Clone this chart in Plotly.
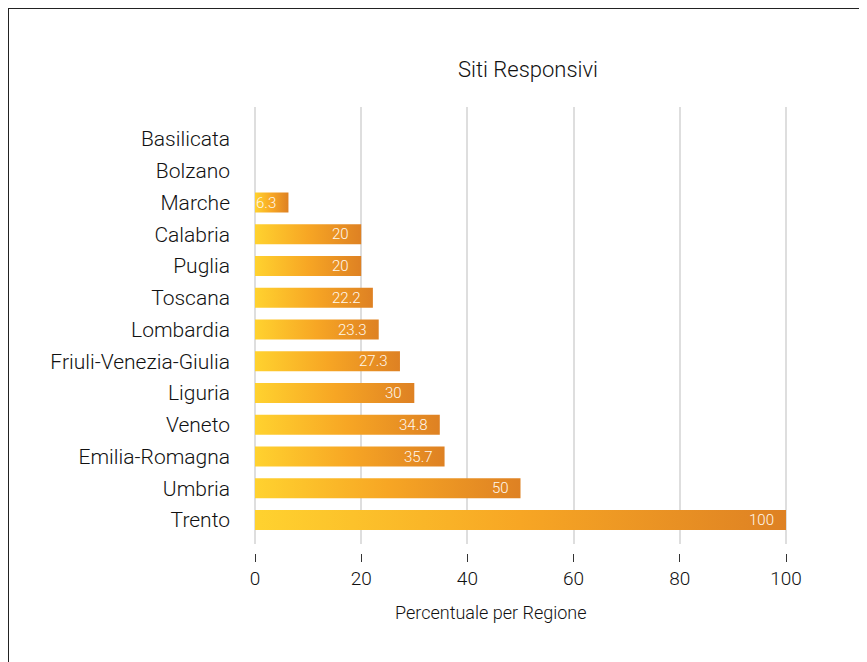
import plotly.graph_objects as go

# ---- data (top to bottom as shown) ----
regions = ["Basilicata", "Bolzano", "Marche", "Calabria", "Puglia", "Toscana",
           "Lombardia", "Friuli-Venezia-Giulia", "Liguria", "Veneto",
           "Emilia-Romagna", "Umbria", "Trento"]
values = [0, 0, 6.3, 20, 20, 22.2, 23.3, 27.3, 30, 34.8, 35.7, 50, 100]
x_ticks = [0, 20, 40, 60, 80, 100]
title_text = "Siti Responsivi"
x_title = "Percentuale per Regione"

# ---- style / layout constants (figure pixels; page adds an 8px body margin) ----
W, H = 867, 662
OFF = 8
PAD = 3  # extra px on each side so edge gridlines are drawn
X0_PX, X1_PX = 255 - OFF, 786 - OFF
PL, PR, PT, PB = X0_PX - PAD, X1_PX + PAD, 107 - OFF, 553 - OFF
GRID_BOTTOM = 544 - OFF
TOP_C, BOT_C = 139 - OFF, 520 - OFF
FONT = "Roboto"
TXT = "#111111"
GRAD = [[0.0, "#FFD22F"], [0.5, "#F7A624"], [1.0, "#DE8123"]]
HALF = 0.315

n = len(regions)
ypos = [n - 1 - i for i in range(n)]

fig = go.Figure()
for r, v, y in zip(regions, values, ypos):
    if v <= 0:
        continue
    fig.add_trace(go.Scatter(
        x=[0, v, v, 0, 0],
        y=[y - HALF, y - HALF, y + HALF, y + HALF, y - HALF],
        mode="lines", line=dict(width=0),
        fill="toself",
        fillgradient=dict(type="horizontal", colorscale=GRAD),
        name=r, showlegend=False, hoverinfo="skip",
    ))
    fig.add_annotation(
        x=v, y=y, xref="x", yref="y", text=f"{v:g}", showarrow=False,
        xanchor="right", xshift=-10,
        font=dict(family=FONT, size=15, color="#FFF8EE", weight=300),
    )

pw = PR - PL
ph = PB - PT
upx = (x_ticks[-1] - x_ticks[0]) / (X1_PX - X0_PX)
x_range = [x_ticks[0] - PAD * upx, x_ticks[-1] + PAD * upx]
unit_px = (BOT_C - TOP_C) / (n - 1)
y_lo = -(GRID_BOTTOM - BOT_C) / unit_px
y_hi = (n - 1) + (TOP_C - PT) / unit_px

fig.update_layout(
    width=W, height=H,
    margin=dict(l=PL, r=W - PR, t=PT, b=H - PB, pad=0),
    paper_bgcolor="white", plot_bgcolor="white",
    font=dict(family=FONT, size=20, color=TXT, weight=300),
    showlegend=False,
    title=dict(text=title_text, x=(528 - OFF) / W, xref="container", xanchor="center",
               y=1 - (69 - OFF) / H, yref="container", yanchor="middle",
               font=dict(family=FONT, size=22, color=TXT, weight=300)),
    xaxis=dict(range=x_range, tickvals=x_ticks, showgrid=True, gridcolor="#DEDEDE",
               gridwidth=2, zeroline=False, showline=False,
               ticks="outside", ticklen=8, tickcolor="#333333", tickwidth=1,
               anchor="free", position=0,
               tickfont=dict(family=FONT, size=19, color=TXT, weight=300)),
    yaxis=dict(range=[y_lo, y_hi], domain=[(PB - GRID_BOTTOM) / ph, 1],
               tickvals=ypos, ticktext=regions, showgrid=False, zeroline=False,
               showline=False, ticks="", ticklabelstandoff=21,
               tickfont=dict(family=FONT, size=21, color=TXT, weight=300)),
)

fig.add_annotation(text=x_title, x=(491 - OFF - PL) / pw, y=-(612 - OFF - PB) / ph,
                   xref="paper", yref="paper", showarrow=False,
                   xanchor="center", yanchor="middle",
                   font=dict(family=FONT, size=18, color=TXT, weight=300))

# outer frame (top and left edges visible)
fig.add_shape(type="rect", xref="paper", yref="paper",
              x0=(0 - PL) / pw, x1=(W + 50 - PL) / pw,
              y0=-(H + 50 - PB) / ph, y1=(PB - 0) / ph,
              line=dict(color="#222222", width=2), fillcolor="rgba(0,0,0,0)",
              layer="below")

fig.write_html("out.html")
